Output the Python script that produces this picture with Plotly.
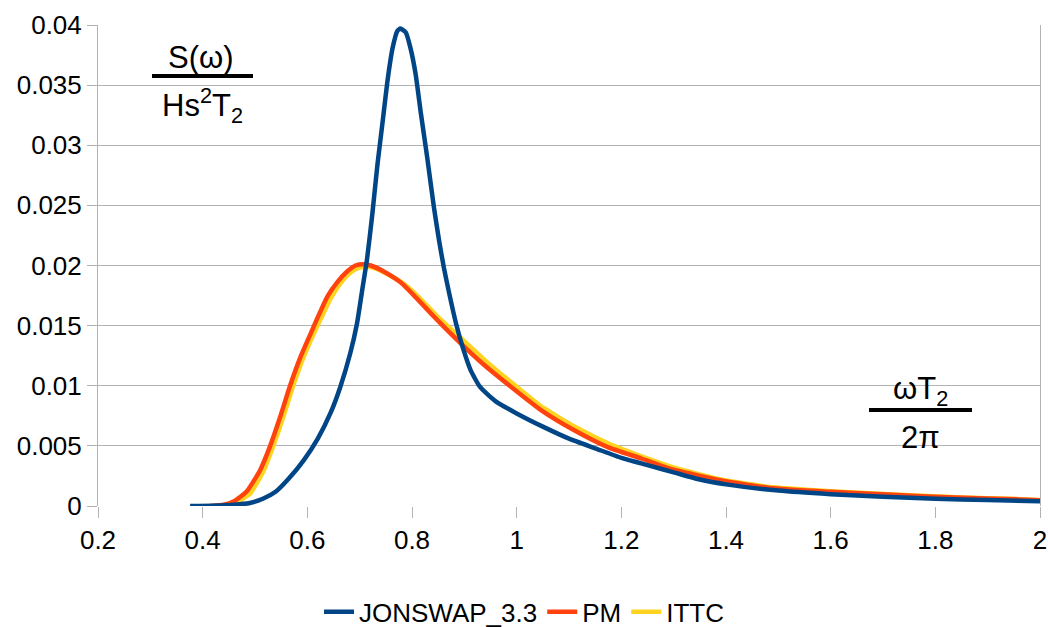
import plotly.graph_objects as go

# Normalised wave spectra S(w)/(Hs^2 T2) versus w T2 / 2pi
jonswap_x = [0.376, 0.42, 0.46, 0.49, 0.515, 0.54, 0.565, 0.593, 0.62, 0.645, 0.663,
             0.682, 0.695, 0.705, 0.714, 0.724, 0.734, 0.744, 0.753, 0.763, 0.772,
             0.778, 0.788, 0.797, 0.807, 0.8165, 0.829, 0.842, 0.852, 0.861, 0.871,
             0.884, 0.8965, 0.912, 0.93, 0.96, 1.0, 1.05, 1.1, 1.15, 1.2,
             1.25, 1.3, 1.35, 1.4, 1.5, 1.6, 1.7, 1.8, 1.9, 2.0]
jonswap_y = [0.0, 0.00002, 0.0001, 0.00025, 0.0006, 0.0012, 0.0023, 0.0038, 0.0056, 0.0078, 0.0099,
             0.0127, 0.0152, 0.0180, 0.0205, 0.0242, 0.0284, 0.0320, 0.0353, 0.0381, 0.0395,
             0.0397, 0.0394, 0.0381, 0.0359, 0.0328, 0.0290, 0.0248, 0.0220, 0.0198, 0.0177,
             0.0152, 0.01325, 0.0113, 0.0099, 0.0087, 0.0077, 0.0066, 0.0056, 0.0048, 0.0040,
             0.0034, 0.0028, 0.0022, 0.0018, 0.00128, 0.00098, 0.00076, 0.0006, 0.0005, 0.0004]

pm_x = [0.414, 0.44, 0.46, 0.484, 0.51, 0.529, 0.548, 0.567, 0.587, 0.606,
        0.619, 0.638, 0.657, 0.676, 0.692, 0.708, 0.721, 0.746, 0.778, 0.804,
        0.842, 0.893, 0.938, 0.989, 1.0465, 1.11, 1.174, 1.238, 1.293, 1.389,
        1.485, 1.6, 1.709, 1.837, 1.96, 2.0]
pm_y = [0.0, 0.0001, 0.0004, 0.0012, 0.0030, 0.0050, 0.0074, 0.0100, 0.0124, 0.0143,
        0.0156, 0.0174, 0.0186, 0.0195, 0.0200, 0.0201, 0.0200, 0.0195, 0.0186, 0.0175,
        0.01575, 0.01353, 0.01173, 0.00992, 0.00798, 0.0063, 0.0049, 0.00395, 0.0031, 0.00214,
        0.0015, 0.00118, 0.00095, 0.0007, 0.00055, 0.00048]

ittc_x = [0.44, 0.46, 0.49, 0.515, 0.535, 0.554, 0.573, 0.593, 0.612, 0.625,
          0.644, 0.663, 0.682, 0.698, 0.714, 0.727, 0.752, 0.784, 0.81, 0.848,
          0.9, 0.945, 0.995, 1.05, 1.115, 1.18, 1.24, 1.3, 1.39, 1.49,
          1.6, 1.71, 1.84, 1.96, 2.0]
ittc_y = [0.0, 0.0002, 0.0010, 0.0028, 0.0050, 0.0074, 0.0100, 0.0124, 0.0143, 0.0155,
          0.0172, 0.0185, 0.0194, 0.0198, 0.0199, 0.0198, 0.0193, 0.0185, 0.0175, 0.0158,
          0.0137, 0.0119, 0.0101, 0.0082, 0.0065, 0.0051, 0.0041, 0.0032, 0.0022, 0.00155,
          0.00122, 0.00098, 0.00073, 0.00057, 0.0005]

x_ticks = [0.2, 0.4, 0.6, 0.8, 1.0, 1.2, 1.4, 1.6, 1.8, 2.0]
x_tick_text = ["0.2", "0.4", "0.6", "0.8", "1", "1.2", "1.4", "1.6", "1.8", "2"]
y_ticks = [0, 0.005, 0.01, 0.015, 0.02, 0.025, 0.03, 0.035, 0.04]
y_tick_text = ["0", "0.005", "0.01", "0.015", "0.02", "0.025", "0.03", "0.035", "0.04"]

series = [
    ("ITTC", ittc_x, ittc_y, "#ffd320"),
    ("PM", pm_x, pm_y, "#ff420e"),
    ("JONSWAP_3.3", jonswap_x, jonswap_y, "#004586"),
]

FONT = "Liberation Sans, Arial, sans-serif"

fig = go.Figure()
for name, xs, ys, col in series:
    fig.add_trace(go.Scatter(x=xs, y=ys, mode="lines", name=name,
                             line=dict(color=col, width=4.5, shape="spline", smoothing=0.5)))

fig.update_layout(
    width=1048, height=627,
    margin=dict(l=98, r=8, t=25, b=121, autoexpand=False),
    paper_bgcolor="white", plot_bgcolor="white",
    font=dict(family=FONT, size=26, color="black"),
    showlegend=True,
    legend=dict(orientation="h", x=(524 - 98) / 942, xanchor="center", y=-0.22, yanchor="middle",
                traceorder="reversed", font=dict(size=26), itemwidth=30),
    xaxis=dict(range=[0.2, 2.0], tickvals=x_ticks, ticktext=x_tick_text,
               showgrid=False, zeroline=False, showline=False, automargin=False,
               ticks="outside", ticklen=11, tickcolor="#b3b3b3", tickwidth=1),
    yaxis=dict(range=[0, 0.04], tickvals=y_ticks, ticktext=y_tick_text,
               showgrid=True, gridcolor="#b3b3b3", gridwidth=1, zeroline=False,
               showline=True, linecolor="#b3b3b3", linewidth=1, mirror=True, automargin=False,
               ticks="outside", ticklen=10, tickcolor="#b3b3b3", tickwidth=1),
)

# white panels behind the axis-title fractions (hide gridlines there)
fig.add_shape(type="rect", xref="paper", yref="paper", layer="between",
              x0=(113 - 98) / 942, x1=(290 - 98) / 942,
              y0=(506 - 135) / 481, y1=(506 - 35) / 481,
              fillcolor="white", line=dict(width=0))
fig.add_shape(type="rect", xref="paper", yref="paper", layer="between",
              x0=(832 - 98) / 942, x1=(1008 - 98) / 942,
              y0=(506 - 458) / 481, y1=(506 - 370) / 481,
              fillcolor="white", line=dict(width=0))

# fraction bars
fig.add_shape(type="line", xref="paper", yref="paper",
              x0=(152 - 98) / 942, x1=(253 - 98) / 942,
              y0=(506 - 76) / 481, y1=(506 - 76) / 481,
              line=dict(color="black", width=4))
fig.add_shape(type="line", xref="paper", yref="paper",
              x0=(869 - 98) / 942, x1=(972 - 98) / 942,
              y0=(506 - 410) / 481, y1=(506 - 410) / 481,
              line=dict(color="black", width=4))

ann_font = dict(family=FONT, size=31, color="black")
fig.add_annotation(xref="paper", yref="paper", x=(201 - 98) / 942, y=(506 - 57) / 481,
                   text="S(ω)", showarrow=False, font=ann_font,
                   xanchor="center", yanchor="middle")
fig.add_annotation(xref="paper", yref="paper", x=(202 - 98) / 942, y=(506 - 106) / 481,
                   text="Hs<sup>2</sup>T<sub>2</sub>", showarrow=False, font=ann_font,
                   xanchor="center", yanchor="middle")
fig.add_annotation(xref="paper", yref="paper", x=(920 - 98) / 942, y=(506 - 391) / 481,
                   text="ωT<sub>2</sub>", showarrow=False, font=ann_font,
                   xanchor="center", yanchor="middle")
fig.add_annotation(xref="paper", yref="paper", x=(920 - 98) / 942, y=(506 - 437) / 481,
                   text="2π", showarrow=False, font=ann_font,
                   xanchor="center", yanchor="middle")

fig.write_html("out.html")
